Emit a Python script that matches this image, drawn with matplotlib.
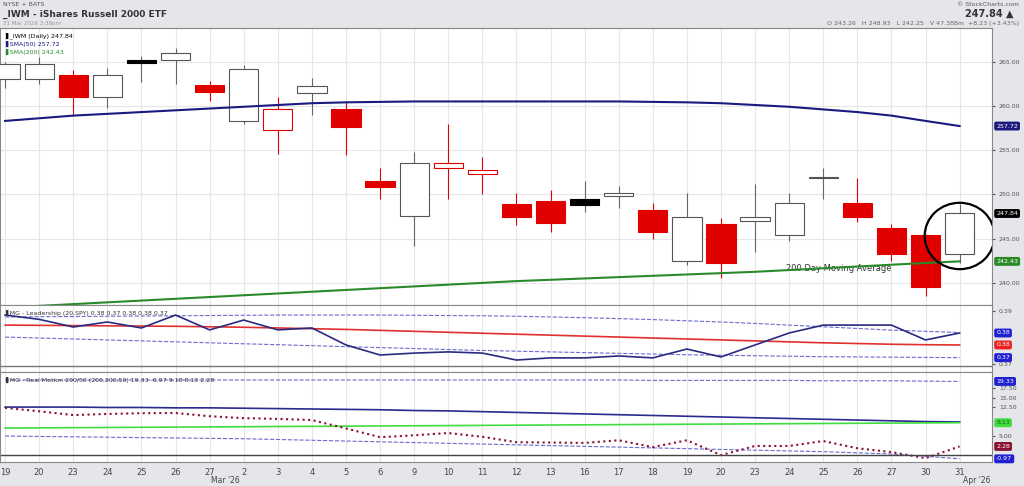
import matplotlib.pyplot as plt
import matplotlib.patches as mpatches
import numpy as np

dates = ["19", "20", "23", "24", "25", "26", "27", "2", "3", "4", "5", "6", "9", "10", "11",
         "12", "13", "16", "17", "18", "19", "20", "23", "24", "25", "26", "27", "30", "31"]
opens = [263.0, 263.0, 263.5, 261.0, 264.9, 265.2, 262.4, 258.3, 257.3, 261.5, 259.7, 251.5, 247.6, 253.0, 252.3,
         248.9, 249.2, 248.8, 249.8, 248.2, 242.5, 246.7, 247.0, 245.4, 251.8, 249.0, 246.2, 245.4, 243.3]
highs = [265.0, 265.5, 264.0, 264.3, 265.6, 266.5, 262.8, 264.6, 261.0, 263.2, 260.5, 253.0, 254.8, 258.0, 254.2,
         250.1, 250.5, 251.5, 251.0, 249.0, 250.1, 247.3, 251.2, 250.1, 253.0, 251.9, 246.7, 245.5, 248.93]
lows = [262.0, 262.5, 258.9, 259.8, 262.7, 262.5, 260.5, 258.0, 254.6, 259.0, 254.5, 249.5, 244.2, 249.5, 250.0,
        246.5, 245.7, 248.0, 248.5, 245.0, 242.0, 240.5, 243.5, 244.7, 249.5, 246.9, 242.5, 238.5, 242.25]
closes = [264.7, 264.7, 261.0, 263.5, 265.2, 266.0, 261.6, 264.2, 259.7, 262.2, 257.6, 250.8, 253.6, 253.5, 252.8,
          247.5, 246.8, 249.5, 250.1, 245.7, 247.4, 242.2, 247.4, 249.0, 252.0, 247.5, 243.3, 239.5, 247.84]
solid_up = [4, 17]  # filled black candles
sma50 = [258.3, 258.6, 258.9, 259.1, 259.3, 259.5, 259.7, 259.9, 260.1, 260.3, 260.4, 260.45, 260.5, 260.5, 260.5,
         260.5, 260.5, 260.5, 260.5, 260.45, 260.4, 260.3, 260.1, 259.9, 259.6, 259.3, 258.9, 258.3, 257.72]
sma200 = [237.2, 237.4, 237.6, 237.8, 238.0, 238.2, 238.4, 238.6, 238.8, 239.0, 239.2, 239.4, 239.6, 239.8, 240.0,
          240.2, 240.35, 240.5, 240.65, 240.8, 240.95, 241.1, 241.25, 241.45, 241.65, 241.85, 242.05, 242.25, 242.43]

lead = [0.3878, 0.3860, 0.3828, 0.3849, 0.3824, 0.3878, 0.3816, 0.3857, 0.3816, 0.3824, 0.3753, 0.3711, 0.3719,
        0.3724, 0.3719, 0.3690, 0.3699, 0.3699, 0.3707, 0.3699, 0.3736, 0.3703, 0.3753, 0.3803, 0.3836, 0.3836,
        0.3836, 0.3774, 0.3803]
lead_ma = [0.3836, 0.3835, 0.3834, 0.3833, 0.3832, 0.3831, 0.3829, 0.3827, 0.3824, 0.3821, 0.3818, 0.3814, 0.3810,
           0.3806, 0.3802, 0.3798, 0.3794, 0.3790, 0.3786, 0.3782, 0.3778, 0.3774, 0.3770, 0.3766, 0.3762, 0.3759,
           0.3756, 0.3754, 0.3753]
lead_up = [0.3870, 0.3871, 0.3872, 0.3873, 0.3874, 0.3875, 0.3876, 0.3877, 0.3878, 0.3878, 0.3878, 0.3878, 0.3877,
           0.3876, 0.3875, 0.3873, 0.3870, 0.3867, 0.3863, 0.3859, 0.3854, 0.3849, 0.3843, 0.3836, 0.3829, 0.3822,
           0.3815, 0.3810, 0.3805]
lead_dn = [0.3786, 0.3782, 0.3778, 0.3774, 0.3770, 0.3766, 0.3762, 0.3758, 0.3754, 0.3750, 0.3746, 0.3742, 0.3738,
           0.3734, 0.3730, 0.3727, 0.3724, 0.3721, 0.3718, 0.3715, 0.3712, 0.3710, 0.3708, 0.3706, 0.3704, 0.3703,
           0.3702, 0.3701, 0.3700]

rm_top = [19.7, 19.7, 19.7, 19.7, 19.7, 19.7, 19.7, 19.7, 19.7, 19.7, 19.7, 19.7, 19.7, 19.7, 19.7, 19.7, 19.7,
          19.7, 19.7, 19.6, 19.6, 19.6, 19.6, 19.6, 19.5, 19.5, 19.5, 19.4, 19.33]
rm_blue = [12.6, 12.6, 12.6, 12.5, 12.5, 12.4, 12.4, 12.3, 12.2, 12.1, 12.0, 11.9, 11.7, 11.6, 11.4, 11.2, 11.0,
           10.8, 10.6, 10.4, 10.2, 10.0, 9.8, 9.6, 9.4, 9.2, 9.0, 8.8, 8.7]
rm_green = [7.1, 7.15, 7.2, 7.25, 7.3, 7.35, 7.4, 7.45, 7.5, 7.55, 7.6, 7.65, 7.7, 7.75, 7.8, 7.85, 7.9, 7.95, 8.0,
            8.05, 8.1, 8.15, 8.2, 8.25, 8.3, 8.35, 8.4, 8.45, 8.5]
rm_maroon = [12.4, 11.5, 10.5, 10.8, 11.0, 11.05, 10.2, 9.7, 9.5, 9.2, 7.0, 4.7, 5.2, 5.8, 4.8, 3.4, 3.3, 3.2, 3.9,
             2.1, 3.9, 0.0, 2.4, 2.4, 3.7, 1.8, 0.8, -0.8, 2.28]
rm_low = [5.0, 4.9, 4.8, 4.7, 4.6, 4.5, 4.4, 4.3, 4.1, 3.9, 3.7, 3.5, 3.3, 3.1, 2.9, 2.7, 2.5, 2.3, 2.1, 1.9, 1.7,
          1.5, 1.3, 1.1, 0.9, 0.6, 0.3, -0.3, -0.97]

x = np.arange(len(dates))
W, H = 1024, 486
fig = plt.figure(figsize=(10.24, 4.86), dpi=100, facecolor="#e4e6ea")

def ax_at(top, bottom):
    return fig.add_axes([0, 1 - bottom / H, 992 / W, (bottom - top) / H])

ax1 = ax_at(28, 305)
ax2 = ax_at(305, 372)
ax3 = ax_at(372, 462)
for ax in (ax1, ax2, ax3):
    ax.set_facecolor("white")
    ax.set_xlim(-0.15, 28.95)
    for xi in x:
        ax.axvline(xi, color="#e6e6ea", lw=0.8, zorder=0)
    ax.tick_params(axis="x", length=0, labelbottom=False)
    ax.yaxis.tick_right()
    ax.tick_params(axis="y", length=2, labelsize=4.5, colors="#555555", pad=3)
    for s in ax.spines.values():
        s.set_color("#888888")
        s.set_linewidth(0.8)

# price panel
ax1.set_ylim(237.5, 268.8)
for lvl in (240, 245, 250, 255, 260, 265):
    ax1.axhline(lvl, color="#e6e6ea", lw=0.8, zorder=0)
ax1.set_yticks([240, 245, 250, 255, 260, 265])
ax1.set_yticklabels(["240.00", "245.00", "250.00", "255.00", "260.00", "265.00"])
bw = 0.86
for i in x:
    o, h, l, c = opens[i], highs[i], lows[i], closes[i]
    prev = closes[i - 1] if i > 0 else c
    if i in solid_up:
        face, edge = "black", "black"
    elif c < o:
        face, edge = "#e00000", "#e00000"
    elif c < prev:
        face, edge = "white", "#e00000"
    else:
        face, edge = "white", "#555555"
    ax1.vlines(i, l, h, color="#e00000" if edge == "#e00000" else "#666666", lw=0.8, zorder=2)
    ax1.add_patch(mpatches.Rectangle((i - bw / 2, min(o, c)), bw, max(abs(c - o), 0.15),
                                     facecolor=face, edgecolor=edge, lw=0.8, zorder=3))
ax1.plot(x, sma50, color="#1a1a80", lw=1.5, zorder=4)
ax1.plot(x, sma200, color="#2a8a2a", lw=1.5, zorder=4)
ax1.text(22.9, 241.3, "200 Day Moving Average", fontsize=6, color="#333333")
ax1.add_patch(mpatches.Ellipse((28.0, 245.3), 2.05, 7.5, fill=False, edgecolor="black", lw=1.6, zorder=6))
ax1.text(0.005, 0.985, "▌_IWM (Daily) 247.84", transform=ax1.transAxes, fontsize=4.5, va="top")
ax1.text(0.005, 0.955, "▌SMA(50) 257.72", transform=ax1.transAxes, fontsize=4.5, va="top", color="#1a1a80")
ax1.text(0.005, 0.925, "▌SMA(200) 242.43", transform=ax1.transAxes, fontsize=4.5, va="top", color="#2a8a2a")

def tag(ax, y, txt, col, fc="white"):
    ax.annotate(txt, (1, y), xycoords=("axes fraction", "data"), xytext=(3, 0), textcoords="offset points",
                fontsize=4.5, color=fc, va="center", annotation_clip=False,
                bbox=dict(boxstyle="round,pad=0.2", fc=col, ec=col))

tag(ax1, 257.72, "257.72", "#1a1a80")
tag(ax1, 247.84, "247.84", "black")
tag(ax1, 242.43, "242.43", "#2a8a2a")

# leadership panel
ax2.set_ylim(0.364, 0.392)
ax2.set_yticks([0.3675, 0.3895])
ax2.set_yticklabels(["0.37", "0.39"])
ax2.plot(x, lead_up, color="#6a6ad0", lw=0.8, ls="--")
ax2.plot(x, lead_dn, color="#6a6ad0", lw=0.8, ls="--")
ax2.plot(x, lead_ma, color="#e03030", lw=1.2)
ax2.plot(x, lead, color="#2a2a80", lw=1.2)
ax2.axhline(0.3665, color="#777777", lw=1.0)
ax2.text(0.005, 0.93, "▌MG - Leadership (20,SPY) 0.38 0.37 0.38 0.38 0.37", transform=ax2.transAxes,
         fontsize=4.5, va="top", color="#333333")
tag(ax2, 0.3803, "0.38", "#2020d0")
tag(ax2, 0.3753, "0.38", "#ee2020")
tag(ax2, 0.3700, "0.37", "#2020d0")

# real motion panel
ax3.set_ylim(-1.8, 21.8)
ax3.set_yticks([5, 12.5, 15, 17.5])
ax3.set_yticklabels(["5.00", "12.50", "15.00", "17.50"])
ax3.plot(x, rm_top, color="#6a6ad0", lw=0.8, ls="--")
ax3.plot(x, rm_low, color="#6a6ad0", lw=0.8, ls="--")
ax3.plot(x, rm_blue, color="#2a2a90", lw=1.2)
ax3.plot(x, rm_green, color="#40dd40", lw=1.2)
ax3.plot(x, rm_maroon, color="#8a1030", lw=1.5, ls=":")
ax3.axhline(0, color="#444444", lw=1.0)
ax3.text(0.005, 0.95, "▌MG - Real Motion 200/50 (200,200,50) 19.33 -0.97 9.18 8.13 2.28", transform=ax3.transAxes,
         fontsize=4.5, va="top", color="#333333")
tag(ax3, 19.33, "19.33", "#2020d0")
tag(ax3, 8.5, "8.13", "#40dd40", fc="#206020")
tag(ax3, 2.28, "2.28", "#8a1030")
tag(ax3, -0.97, "-0.97", "#2020d0")

# x labels
for i, d in enumerate(dates):
    fig.text((5 + 34.1 * i) / W, 1 - 472 / H, d, fontsize=6, ha="center", va="center", color="#444444")
fig.text(225 / W, 1 - 480 / H, "Mar '26", fontsize=5.5, ha="center", va="center", color="#444444")
fig.text(977 / W, 1 - 480 / H, "Apr '26", fontsize=5.5, ha="center", va="center", color="#444444")

# header
fig.text(0.003, 1 - 5 / H, "NYSE + BATS", fontsize=4.5, va="center", color="#555555")
fig.text(0.003, 1 - 14 / H, "_IWM - iShares Russell 2000 ETF", fontsize=6.5, va="center", weight="bold",
         color="#333333")
fig.text(0.003, 1 - 23 / H, "31 Mar 2026 3:39pm", fontsize=4, va="center", color="#999999")
fig.text(0.995, 1 - 4 / H, "© StockCharts.com", fontsize=4.5, ha="right", va="center", color="#555555")
fig.text(0.99, 1 - 14 / H, "247.84 ▲", fontsize=7, ha="right", va="center", weight="bold", color="#333333")
fig.text(0.995, 1 - 24 / H, "O 243.26   H 248.93   L 242.25   V 47.388m  +8.23 (+3.43%)", fontsize=4.5,
         ha="right", va="center", color="#666666")

fig.savefig("out.png", dpi=100, facecolor=fig.get_facecolor())
